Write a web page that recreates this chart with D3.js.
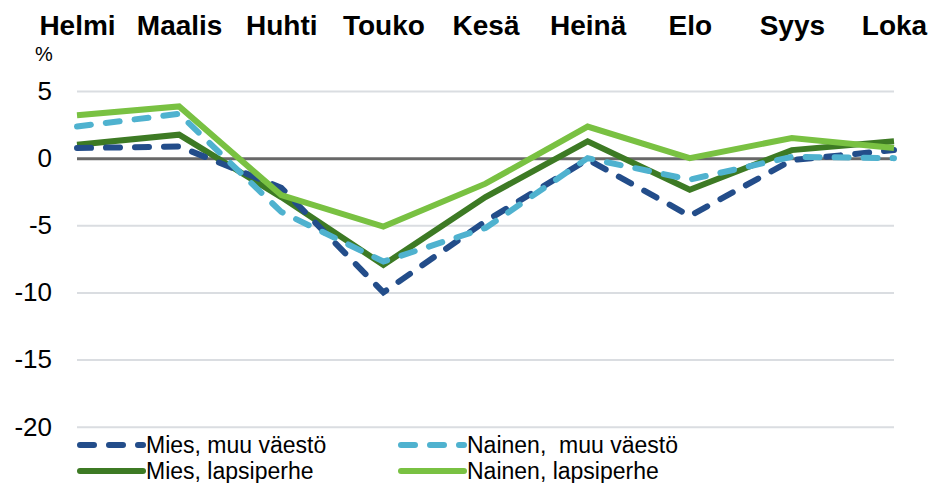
<!DOCTYPE html>
<html>
<head>
<meta charset="utf-8">
<script src="https://cdn.jsdelivr.net/npm/d3@7"></script>
<style>
  body { margin: 0; background: #fff; }
  svg { display: block; font-family: "Liberation Sans", Arial, sans-serif; }
</style>
</head>
<body>
<div id="chart"></div>
<script>
// months along the top
const months = ["Helmi", "Maalis", "Huhti", "Touko", "Kesä", "Heinä", "Elo", "Syys", "Loka"];

// series values, % change
const miesMuu = [0.75, 0.87, -2.2, -10.0, -4.7, -0.1, -4.3, -0.15, 0.6];
const nainenMuu = [2.35, 3.3, -4.0, -7.7, -5.2, 0.0, -1.6, 0.1, 0.0];
const miesLapsi = [1.0, 1.75, -2.9, -7.95, -2.9, 1.25, -2.35, 0.6, 1.25];
const nainenLapsi = [3.2, 3.85, -2.75, -5.1, -1.9, 2.35, 0.0, 1.5, 0.75];

const yTicks = [5, 0, -5, -10, -15, -20];

const width = 931;
const height = 483;
const marginLeft = 77;
const marginRight = 37;

const x = d3.scalePoint(months, [marginLeft, width - marginRight]);
const y = d3.scaleLinear([-20, 5], [426.7, 91]);

const series = [
  { name: "Mies, lapsiperhe", values: miesLapsi, color: "#3d7a24", dash: null, width: 6 },
  { name: "Mies, muu väestö", values: miesMuu, color: "#234d8a", dash: "14,15", width: 6 },
  { name: "Nainen,  muu väestö", values: nainenMuu, color: "#4fb2cf", dash: "14,15", width: 6 },
  { name: "Nainen, lapsiperhe", values: nainenLapsi, color: "#79c142", dash: null, width: 6 },
];

const svg = d3.select("#chart")
  .append("svg")
  .attr("width", width)
  .attr("height", height)
  .attr("viewBox", [0, 0, width, height]);

// gridlines + y labels (plain hyphen for negatives)
svg.append("g")
  .attr("transform", `translate(${marginLeft},0)`)
  .call(d3.axisLeft(y).tickValues(yTicks).tickSize(0).tickPadding(25).tickFormat((d) => String(d)))
  .call((g) => g.select(".domain").remove())
  .call((g) => g.selectAll(".tick text")
    .attr("font-size", "26px")
    .attr("fill", "#000")
    .attr("font-family", "Liberation Sans, Arial, sans-serif"))
  .call((g) => g.selectAll(".tick line").clone()
    .attr("x2", width - marginLeft - marginRight)
    .attr("stroke", (d) => (d === 0 ? "#686868" : "#dadde1"))
    .attr("stroke-width", (d) => (d === 0 ? 3 : 2)));

svg.append("text")
  .attr("x", 44)
  .attr("y", 61)
  .attr("text-anchor", "middle")
  .attr("font-size", "20px")
  .text("%");

// month labels on top
svg.append("g")
  .attr("transform", "translate(0,35)")
  .call(d3.axisTop(x).tickSize(0).tickPadding(0))
  .call((g) => g.select(".domain").remove())
  .call((g) => g.selectAll(".tick text")
    .attr("font-size", "28px")
    .attr("font-weight", "bold")
    .attr("fill", "#000")
    .attr("font-family", "Liberation Sans, Arial, sans-serif"));

const line = d3.line()
  .x((d, i) => x(months[i]))
  .y((d) => y(d));

svg.append("g")
  .selectAll("path")
  .data(series)
  .join("path")
  .attr("fill", "none")
  .attr("stroke", (d) => d.color)
  .attr("stroke-width", (d) => d.width)
  .attr("stroke-dasharray", (d) => d.dash)
  .attr("stroke-linecap", (d) => (d.dash ? "round" : "butt"))
  .attr("stroke-linejoin", "miter")
  .attr("d", (d) => line(d.values));

// legend, 2 x 2
const legendOrder = [series[1], series[2], series[0], series[3]];
const legend = svg.append("g")
  .selectAll("g")
  .data(legendOrder)
  .join("g")
  .attr("transform", (d, i) => `translate(${i % 2 === 0 ? 77 : 398},${i < 2 ? 445 : 471})`);

legend.append("line")
  .attr("x1", 3)
  .attr("x2", 66)
  .attr("stroke", (d) => d.color)
  .attr("stroke-width", 6)
  .attr("stroke-linecap", "round")
  .attr("stroke-dasharray", (d) => (d.dash ? "14,15" : null));

legend.append("text")
  .attr("x", 69)
  .attr("dy", "0.36em")
  .attr("font-size", "23px")
  .style("white-space", "pre")
  .text((d) => d.name);
</script>
</body>
</html>
